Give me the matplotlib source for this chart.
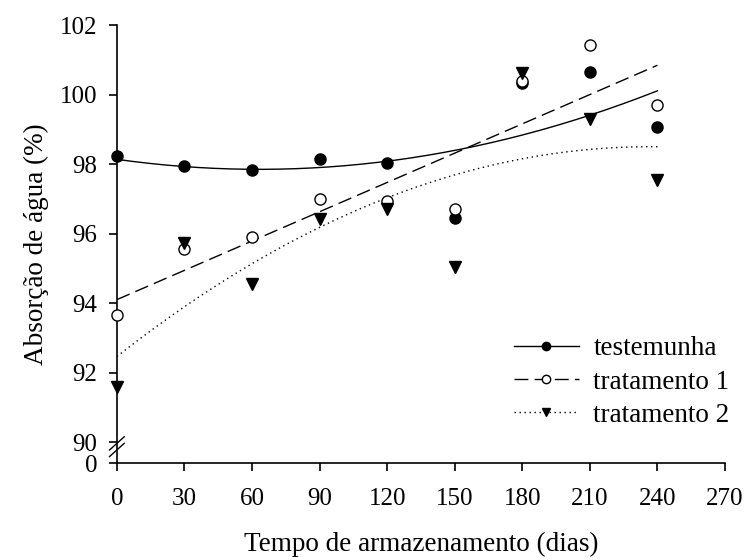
import matplotlib
matplotlib.use('Agg')
import matplotlib.pyplot as plt
import numpy as np

plt.rcParams['font.family'] = ['Liberation Serif', 'DejaVu Serif']

# storage time (days)
dias = np.array([0, 30, 60, 90, 120, 150, 180, 210, 240])

# water absorption (%)
testemunha = np.array([98.23, 97.94, 97.83, 98.14, 98.03, 96.46, 100.34, 100.65, 99.06])
tratamento1 = np.array([93.65, 95.55, 95.90, 97.00, 96.94, 96.70, 100.40, 101.43, 99.71])
tratamento2 = np.array([91.59, 95.73, 94.55, 96.42, 96.70, 95.05, 100.62, 99.30, 97.54])

# regression degree per series
graus = [2, 1, 2]

xticks = [0, 30, 60, 90, 120, 150, 180, 210, 240, 270]
yticks = [90, 92, 94, 96, 98, 100, 102]
y_base = 89.4   # bottom of the broken axis, labelled "0"

fig = plt.figure(figsize=(7.49, 5.6), dpi=100)
ax = fig.add_axes([0.156, 0.173, 0.812, 0.782])

xs = np.linspace(0, 240, 200)
series = [
    ('testemunha', testemunha, '-', dict(marker='o', mfc='black', mec='black')),
    ('tratamento 1', tratamento1, (0, (10, 4.5)), dict(marker='o', mfc='white', mec='black')),
    ('tratamento 2', tratamento2, (0, (1, 2.6)), dict(marker='v', mfc='black', mec='black')),
]

for (nome, vals, ls, mk), g in zip(series, graus):
    coef = np.polyfit(dias, vals, g)
    ax.plot(xs, np.polyval(coef, xs), color='black', lw=1.0, ls=ls, zorder=2)
    ax.plot(dias, vals, ls='none', ms=8, mew=1.0, zorder=3, clip_on=False, **mk)
    # legend proxy
    ax.plot([], [], color='black', lw=1.0, ls=ls, ms=6, mew=1.0, label=nome, **mk)

ax.set_xlim(0, 270)
ax.set_ylim(y_base, 102)
ax.set_xticks(xticks)
ax.set_yticks([y_base] + yticks)
ax.set_yticklabels(['0'] + [str(t) for t in yticks])

for s in ['top', 'right']:
    ax.spines[s].set_visible(False)
for s in ['left', 'bottom']:
    ax.spines[s].set_linewidth(1.2)
ax.tick_params(direction='out', length=6, width=1.2, labelsize=18)
ax.tick_params(axis='x', pad=12)
ax.tick_params(axis='y', pad=8)

# axis break marks
kw = dict(color='black', lw=1.0, clip_on=False, transform=ax.transAxes)
for dy in (0.030, 0.045):
    ax.plot([-0.012, 0.012], [dy - 0.015, dy + 0.015], **kw)

ax.set_xlabel('Tempo de armazenamento (dias)', fontsize=19.5, labelpad=16)
ax.set_ylabel('Absorção de água (%)', fontsize=19.5, labelpad=8)

leg = ax.legend(loc='lower right', frameon=False, fontsize=19.5, handlelength=2.4,
                handletextpad=0.55, labelspacing=0.3, borderpad=0,
                bbox_to_anchor=(1.03, 0.05))

fig.savefig('out.png', dpi=100)
